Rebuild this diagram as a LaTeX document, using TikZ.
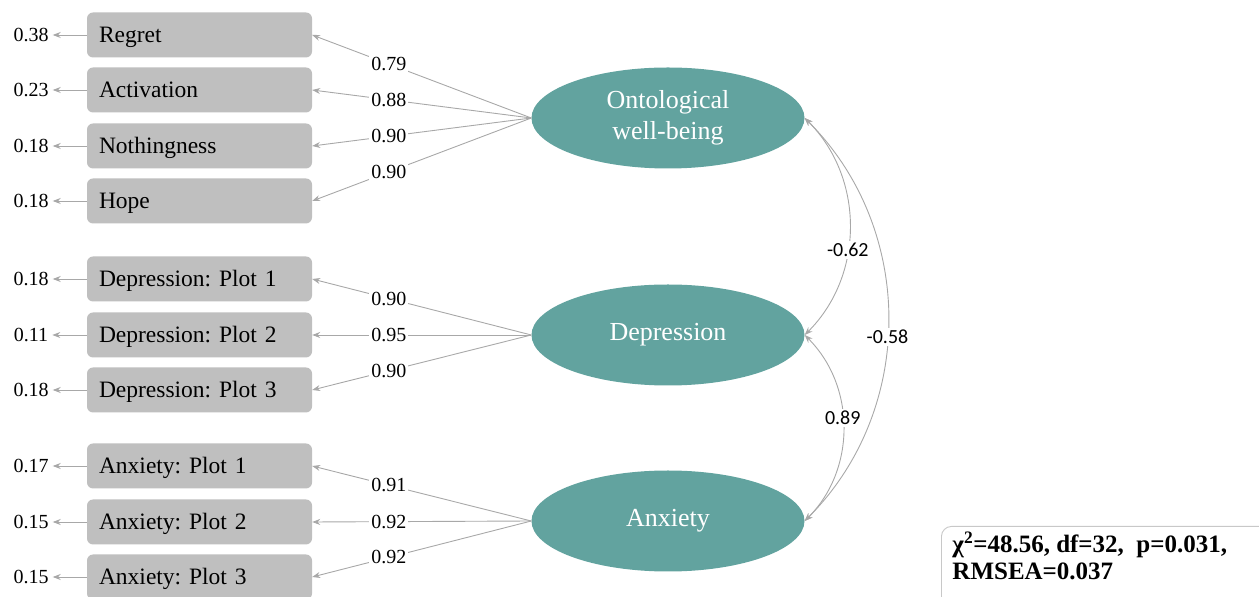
\documentclass[tikz,border=0pt]{standalone}
\usepackage{fontspec}
\setmainfont{Liberation Serif}
\newfontfamily\calfont{Carlito}
\usetikzlibrary{arrows.meta,shapes.geometric}
\definecolor{latteal}{HTML}{62A39F}
\definecolor{obsgray}{HTML}{BFBFBF}
\definecolor{pathgray}{HTML}{A8A8A8}
\definecolor{framegray}{HTML}{C8C8C8}
\frenchspacing
\tikzset{
  obs/.style={rectangle, rounded corners=6pt, fill=obsgray, minimum width=225pt, minimum height=45pt,
              text width=201pt, align=left, inner xsep=12pt, text height=15pt, text depth=0pt,
              font=\fontsize{23.5}{27}\selectfont},
  lat/.style={ellipse, fill=latteal, text=white, minimum width=273pt, minimum height=101pt,
              inner sep=0pt, align=center, font=\fontsize{26}{31}\selectfont},
  res/.style={inner sep=4pt, font=\fontsize{20}{23}\selectfont},
  pa/.style={-{Stealth[length=8pt,width=6pt]}, pathgray, line width=0.9pt},
  cov/.style={{Stealth[length=8pt,width=6pt]}-{Stealth[length=8pt,width=6pt]}, pathgray,
              line width=0.9pt, bend left=45},
  lbl/.style={fill=white, text=black, inner sep=2pt, font=\fontsize{20}{23}\selectfont},
  clbl/.style={fill=white, text=black, inner sep=2pt, font=\calfont\fontsize{20}{23}\selectfont},
  statbox/.style={draw=framegray, line width=0.9pt, rounded corners=10pt, inner xsep=11pt,
              inner ysep=5pt, font=\bfseries\fontsize{25}{27}\selectfont},
}
\begin{document}
\begin{tikzpicture}[x=1pt,y=1pt]
  \useasboundingbox (0,0) rectangle (1259,597);
  \node[obs] (regret)  at (199.5,562) {Regret};
  \node[obs] (activ)   at (199.5,507) {Activation};
  \node[obs] (nothing) at (199.5,451) {Nothingness};
  \node[obs] (hope)    at (199.5,396) {Hope};
  \node[obs] (dep1)    at (199.5,318) {Depression: Plot 1};
  \node[obs] (dep2)    at (199.5,262) {Depression: Plot 2};
  \node[obs] (dep3)    at (199.5,207) {Depression: Plot 3};
  \node[obs] (anx1)    at (199.5,131) {Anxiety: Plot 1};
  \node[obs] (anx2)    at (199.5,75)  {Anxiety: Plot 2};
  \node[obs] (anx3)    at (199.5,20)  {Anxiety: Plot 3};

  \node[res] (eregret)  at (31,562) {0.38};
  \node[res] (eactiv)   at (31,507) {0.23};
  \node[res] (enothing) at (31,451) {0.18};
  \node[res] (ehope)    at (31,396) {0.18};
  \node[res] (edep1)    at (31,318) {0.18};
  \node[res] (edep2)    at (31,262) {0.11};
  \node[res] (edep3)    at (31,207) {0.18};
  \node[res] (eanx1)    at (31,131) {0.17};
  \node[res] (eanx2)    at (31,75)  {0.15};
  \node[res] (eanx3)    at (31,20)  {0.15};
  \draw[pa] (regret.west)--(eregret.east);
  \draw[pa] (activ.west)--(eactiv.east);
  \draw[pa] (nothing.west)--(enothing.east);
  \draw[pa] (hope.west)--(ehope.east);
  \draw[pa] (dep1.west)--(edep1.east);
  \draw[pa] (dep2.west)--(edep2.east);
  \draw[pa] (dep3.west)--(edep3.east);
  \draw[pa] (anx1.west)--(eanx1.east);
  \draw[pa] (anx2.west)--(eanx2.east);
  \draw[pa] (anx3.west)--(eanx3.east);

  \node[lat] (onto) at (668,479) {Ontological\\well-being};
  \node[lat] (depr) at (668,262) {Depression};
  \node[lat] (anxi) at (668,76)  {Anxiety};

  \draw[pa] (onto.west)--node[lbl,pos=0.65]{0.79}(regret.east);
  \draw[pa] (onto.west)--node[lbl,pos=0.65]{0.88}(activ.east);
  \draw[pa] (onto.west)--node[lbl,pos=0.65]{0.90}(nothing.east);
  \draw[pa] (onto.west)--node[lbl,pos=0.65]{0.90}(hope.east);
  \draw[pa] (depr.west)--node[lbl,pos=0.65]{0.90}(dep1.east);
  \draw[pa] (depr.west)--node[lbl,pos=0.65]{0.95}(dep2.east);
  \draw[pa] (depr.west)--node[lbl,pos=0.65]{0.90}(dep3.east);
  \draw[pa] (anxi.west)--node[lbl,pos=0.65]{0.91}(anx1.east);
  \draw[pa] (anxi.west)--node[lbl,pos=0.65]{0.92}(anx2.east);
  \draw[pa] (anxi.west)--node[lbl,pos=0.65]{0.92}(anx3.east);

  \draw[cov] (onto.east) to node[clbl,pos=0.6]{-0.62} (depr.east);
  \draw[cov] (onto.east) to node[clbl,pos=0.54]{-0.58} (anxi.east);
  \draw[cov] (depr.east) to node[clbl,pos=0.45]{0.89} (anxi.east);

  \node[statbox,anchor=north west] (fitidx) at (941,71)
    {\parbox[t][70pt][t]{318pt}{χ\textsuperscript{2}=48.56, df=32,\enspace p=0.031,\\RMSEA=0.037}};
\end{tikzpicture}
\end{document}
